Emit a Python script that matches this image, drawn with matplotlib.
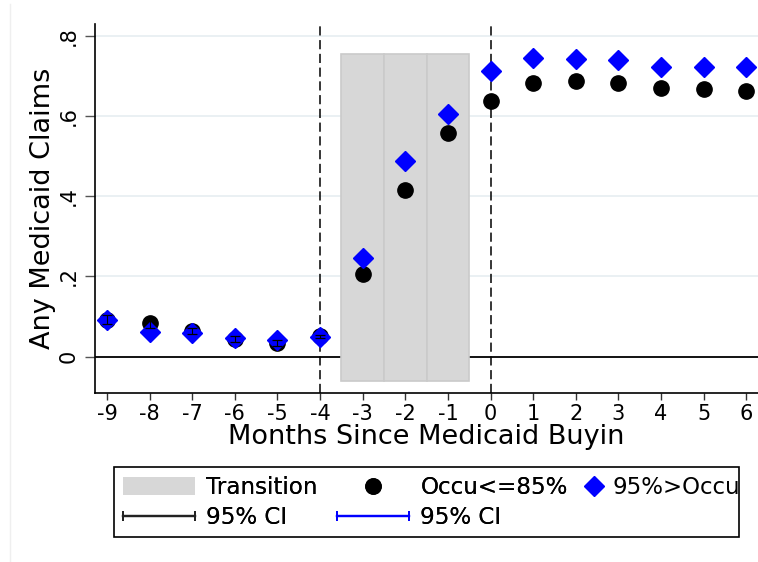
import matplotlib
matplotlib.use('Agg')
import numpy as np
import matplotlib.pyplot as plt
from matplotlib.patches import Patch, Rectangle
from matplotlib.lines import Line2D
from matplotlib.legend_handler import HandlerLine2D

plt.rcParams['font.family'] = 'DejaVu Sans'

# event time (months since buy-in)
months = [-9, -8, -7, -6, -5, -4, -3, -2, -1, 0, 1, 2, 3, 4, 5, 6]

# share with any Medicaid claims, by occupancy group
occ85 = [0.092, 0.083, 0.063, 0.044, 0.034, 0.050, 0.205, 0.414, 0.557,
         0.637, 0.683, 0.688, 0.682, 0.670, 0.667, 0.662]
occ85_ci = [0.012, 0.011, 0.008, 0.008, 0.007, 0.004, 0.012, 0.013, 0.013,
            0.013, 0.013, 0.013, 0.013, 0.013, 0.013, 0.013]
occ95 = [0.091, 0.060, 0.059, 0.047, 0.041, 0.049, 0.245, 0.488, 0.605,
         0.711, 0.744, 0.742, 0.739, 0.722, 0.721, 0.723]
occ95_ci = [0.011, 0.010, 0.009, 0.009, 0.009, 0.009, 0.011, 0.012, 0.012,
            0.012, 0.012, 0.012, 0.012, 0.012, 0.012, 0.012]

# transition window shading
trans_x = [-3, -2, -1]
trans_top = 0.755
trans_bottom = -0.06

event_lines = [-4, 0]
yticks = [0, 0.2, 0.4, 0.6, 0.8]
ytick_labels = ['0', '.2', '.4', '.6', '.8']

fig = plt.figure(figsize=(7.58, 5.62), dpi=100)
W, H = 758.0, 562.0
ax = fig.add_axes([95 / W, 1 - 392.5 / H, (758 - 95) / W, (392.5 - 24) / H])

ax.set_xlim(-9.282, 6.275)
ax.set_ylim(-0.0897, 0.829)

# grid
for y in yticks[1:]:
    ax.axhline(y, color='#e6edf1', lw=1.2, zorder=0)
ax.axhline(0, color='black', lw=1.3, zorder=1)

ax.bar(trans_x, trans_top - trans_bottom, bottom=trans_bottom, width=1.0,
       color='#d7d7d7', edgecolor='#cacaca', lw=1.2, zorder=2)

for xv in event_lines:
    ax.axvline(xv, color='black', lw=1.1, linestyle=(0, (6, 3)), zorder=3)

ax.plot(months, occ85, 'o', color='black', ms=11, zorder=4)
ax.plot(months, occ95, 'D', color='#0000ff', ms=9.8, zorder=5)
ax.errorbar(months, occ95, yerr=occ95_ci, fmt='none', ecolor='#0000ff',
            elinewidth=0.8, capsize=3.5, capthick=0.8, zorder=6)
ax.errorbar(months, occ85, yerr=occ85_ci, fmt='none', ecolor='black',
            elinewidth=0.8, capsize=3.5, capthick=0.9, zorder=7)

ax.set_xticks(months)
ax.set_xticklabels([str(m) for m in months])
ax.set_yticks(yticks)
ax.set_yticklabels(ytick_labels, rotation=90, va='center')
ax.tick_params(axis='x', labelsize=15, length=5, width=1, pad=3, color='#333333')
ax.tick_params(axis='y', labelsize=15, length=7, width=1, pad=5, color='#555555')

for s in ['top', 'right']:
    ax.spines[s].set_visible(False)
for s in ['left', 'bottom']:
    ax.spines[s].set_linewidth(1.2)

ax.set_xlabel('Months Since Medicaid Buyin', fontsize=19.5, labelpad=0)
ax.set_ylabel('Any Medicaid Claims', fontsize=19.5, labelpad=2)

# legend, two pieces inside one frame
h_trans = Patch(facecolor='#d7d7d7', edgecolor='none')
h_circ = Line2D([], [], marker='o', color='black', ls='none', ms=11)
h_diam = Line2D([], [], marker='D', color='#0000ff', ls='none', ms=9.8)
h_cik = Line2D([], [], color='#222222', lw=1.6, marker='|', ms=7, mew=1.3)
h_cib = Line2D([], [], color='#0000ff', lw=1.6, marker='|', ms=7, mew=1.3)

leg1 = fig.legend([h_trans, h_cik, h_circ, h_cib],
                  ['Transition', '95% CI', 'Occu<=85%', '95% CI'],
                  ncol=2, loc='upper left', bbox_to_anchor=(114 / W, 1 - 467 / H),
                  frameon=False, fontsize=16.6, handlelength=3.1, handleheight=0.85,
                  handletextpad=0.5, columnspacing=0.85, labelspacing=0.3,
                  borderpad=0.4, borderaxespad=0, numpoints=1,
                  handler_map={h_cik: HandlerLine2D(numpoints=2, marker_pad=0),
                               h_cib: HandlerLine2D(numpoints=2, marker_pad=0)})
leg2 = fig.legend([h_diam], ['95%>Occu'], loc='upper left',
                  bbox_to_anchor=(576 / W, 1 - 467 / H), frameon=False,
                  fontsize=16.5, handlelength=0.8, handleheight=0.85,
                  handletextpad=0.4, borderpad=0.4, borderaxespad=0, numpoints=1)
fig.add_artist(leg1)

fig.patches.append(Rectangle((114 / W, 1 - 536.5 / H), (739 - 114) / W, 70 / H,
                             transform=fig.transFigure, fill=False,
                             edgecolor='black', lw=1.2))
fig.lines.append(Line2D([10 / W, 10 / W], [0, 1 - 4 / H], transform=fig.transFigure,
                        color='#efefef', lw=1))

fig.savefig('out.png', dpi=100)
